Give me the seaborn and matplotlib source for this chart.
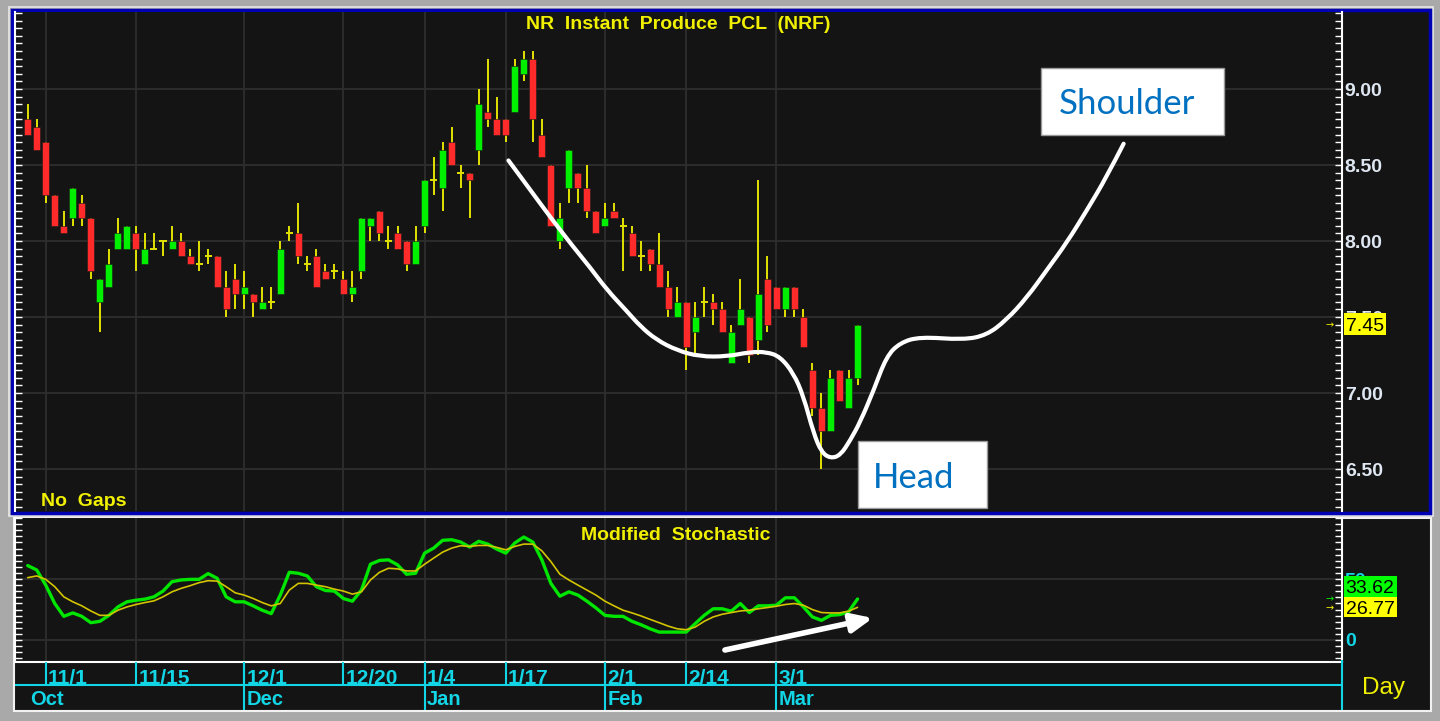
import numpy as np
import pandas as pd
import matplotlib
matplotlib.use("Agg")
import matplotlib.pyplot as plt
from matplotlib.patches import Rectangle, PathPatch
from matplotlib.path import Path
from matplotlib.ticker import FixedLocator, MultipleLocator
import seaborn as sns

# --- daily bars (late Oct -> early Mar) ---
opens = [8.80, 8.75, 8.65, 8.30, 8.10, 8.15, 8.25, 8.15, 7.60, 7.70,
         7.95, 7.95, 8.05, 7.85, 7.95, 8.00, 7.95, 8.00, 7.90, 7.85,
         7.90, 7.90, 7.70, 7.75, 7.65, 7.65, 7.55, 7.60, 7.65, 8.05,
         8.05, 7.85, 7.90, 7.80, 7.80, 7.75, 7.65, 7.80, 8.10, 8.20,
         8.00, 8.05, 8.00, 7.85, 8.10, 8.40, 8.35, 8.65, 8.45, 8.45,
         8.60, 8.85, 8.80, 8.80, 8.85, 9.10, 9.20, 8.70, 8.50, 8.00,
         8.35, 8.45, 8.35, 8.20, 8.10, 8.20, 8.10, 8.05, 7.90, 7.95,
         7.85, 7.70, 7.50, 7.60, 7.40, 7.60, 7.60, 7.55, 7.20, 7.45,
         7.50, 7.35, 7.75, 7.70, 7.55, 7.70, 7.50, 7.15, 6.90, 6.75,
         7.15, 6.90, 7.10]
highs = [8.90, 8.80, 8.65, 8.30, 8.20, 8.35, 8.30, 8.15, 7.75, 7.95,
         8.15, 8.10, 8.10, 8.05, 8.05, 8.00, 8.10, 8.05, 7.95, 8.00,
         7.95, 7.90, 7.80, 7.85, 7.80, 7.65, 7.70, 7.70, 8.00, 8.10,
         8.25, 7.90, 7.95, 7.85, 7.85, 7.80, 7.80, 8.15, 8.15, 8.20,
         8.10, 8.10, 8.00, 8.10, 8.40, 8.55, 8.65, 8.75, 8.50, 8.45,
         9.00, 9.20, 8.95, 8.80, 9.20, 9.25, 9.25, 8.80, 8.50, 8.25,
         8.60, 8.45, 8.50, 8.20, 8.25, 8.25, 8.15, 8.10, 8.00, 7.95,
         8.05, 7.80, 7.70, 7.60, 7.60, 7.70, 7.65, 7.60, 7.45, 7.75,
         7.50, 8.40, 7.90, 7.70, 7.70, 7.70, 7.55, 7.20, 7.00, 7.15,
         7.15, 7.15, 7.45]
lows = [8.70, 8.60, 8.25, 8.10, 8.05, 8.10, 8.10, 7.75, 7.40, 7.70,
        7.95, 7.95, 7.80, 7.85, 7.95, 7.90, 7.95, 7.90, 7.85, 7.80,
        7.85, 7.70, 7.50, 7.55, 7.55, 7.50, 7.55, 7.55, 7.65, 8.00,
        7.85, 7.80, 7.70, 7.75, 7.75, 7.65, 7.60, 7.75, 8.00, 8.00,
        7.95, 7.95, 7.80, 7.85, 8.05, 8.30, 8.20, 8.50, 8.35, 8.15,
        8.50, 8.75, 8.70, 8.65, 8.85, 9.05, 8.65, 8.55, 8.10, 7.95,
        8.25, 8.25, 8.15, 8.05, 8.10, 8.15, 7.80, 7.90, 7.80, 7.80,
        7.70, 7.50, 7.50, 7.15, 7.25, 7.50, 7.45, 7.40, 7.20, 7.45,
        7.20, 7.25, 7.40, 7.55, 7.50, 7.50, 7.30, 6.85, 6.50, 6.75,
        6.95, 6.90, 7.05]
closes = [8.70, 8.60, 8.30, 8.10, 8.05, 8.35, 8.15, 7.80, 7.75, 7.85,
          8.05, 8.10, 7.95, 7.95, 7.95, 8.00, 8.00, 7.90, 7.85, 7.85,
          7.90, 7.70, 7.55, 7.65, 7.70, 7.60, 7.60, 7.60, 7.95, 8.05,
          7.90, 7.85, 7.70, 7.75, 7.80, 7.65, 7.70, 8.15, 8.15, 8.05,
          8.00, 7.95, 7.85, 8.00, 8.40, 8.40, 8.60, 8.50, 8.45, 8.40,
          8.90, 8.80, 8.70, 8.70, 9.15, 9.20, 8.80, 8.55, 8.10, 8.15,
          8.60, 8.35, 8.20, 8.05, 8.15, 8.15, 8.10, 7.90, 7.90, 7.85,
          7.70, 7.55, 7.60, 7.30, 7.50, 7.60, 7.55, 7.40, 7.40, 7.55,
          7.25, 7.65, 7.45, 7.55, 7.70, 7.55, 7.30, 6.90, 6.75, 7.10,
          6.95, 7.10, 7.45]

# Modified Stochastic (%K green, %D yellow)
stoch_k = [61.0, 57.4, 45.0, 29.9, 19.4, 22.2, 19.4, 14.2, 15.3, 20.2,
           27.1, 31.3, 32.6, 33.5, 35.4, 40.1, 47.8, 49.2, 49.7, 49.7,
           54.4, 50.6, 35.4, 31.3, 31.3, 28.0, 24.4, 21.6, 36.8, 55.5,
           54.7, 52.5, 43.7, 40.6, 40.1, 34.0, 31.8, 40.9, 62.1, 65.2,
           65.7, 61.6, 53.9, 54.7, 71.2, 75.3, 81.7, 82.2, 80.3, 76.2,
           80.9, 78.6, 74.5, 71.2, 79.5, 84.4, 80.3, 65.7, 46.4, 35.9,
           39.5, 36.8, 31.8, 26.3, 20.2, 19.4, 19.4, 15.3, 12.5, 9.2,
           6.5, 6.5, 6.5, 6.5, 13.4, 20.2, 25.6, 25.6, 23.6, 29.9,
           22.5, 28.0, 28.0, 28.5, 34.6, 34.6, 27.1, 18.9, 16.1, 20.2,
           20.8, 23.0, 33.62]
stoch_d = [51.1, 52.5, 49.7, 43.7, 35.4, 31.3, 28.0, 23.8, 20.2, 20.2,
           24.4, 27.1, 29.1, 30.7, 32.1, 35.4, 39.5, 42.3, 44.5, 47.0,
           48.6, 48.3, 43.7, 38.7, 36.8, 34.0, 30.7, 28.0, 29.9, 40.9,
           46.4, 46.4, 45.0, 43.7, 41.7, 40.1, 37.6, 39.5, 49.2, 55.5,
           58.8, 58.3, 56.6, 56.6, 62.1, 67.1, 72.0, 75.3, 77.3, 76.7,
           77.5, 77.5, 75.9, 73.9, 76.7, 78.6, 78.6, 73.1, 64.3, 53.9,
           49.2, 45.0, 40.9, 36.8, 31.8, 28.0, 24.4, 22.2, 19.7, 16.9,
           14.2, 11.4, 9.2, 8.4, 10.6, 15.3, 18.9, 21.1, 22.5, 23.8,
           24.4, 25.6, 26.6, 27.7, 29.1, 29.9, 28.5, 24.9, 22.5, 22.2,
           22.2, 23.6, 26.77]

day_ticks = [2, 12, 24, 35, 44, 53, 64, 73, 83]
day_labels = ["11/1", "11/15", "12/1", "12/20", "1/4", "1/17", "2/1", "2/14", "3/1"]
month_ticks = [0, 24, 44, 64, 83]
month_labels = ["Oct", "Dec", "Jan", "Feb", "Mar"]
price_ticks = [6.5, 7.0, 7.5, 8.0, 8.5, 9.0]

# hand-drawn head & shoulders sketch (bar index, price)
sketch_x = [53.3, 55.3, 57.9, 60.5, 62.3, 64.2, 66.4, 67.9, 69.7, 72.0,
            74.5, 77.5, 80.1, 81.9, 83.4, 84.9, 86.0, 87.1, 88.0, 89.0,
            90.1, 91.2, 92.3, 93.8, 95.2, 96.7, 98.9, 103.7, 106.3, 108.5,
            110.8, 113.0, 115.2, 117.4, 119.6, 121.5]
sketch_y = [8.53, 8.37, 8.16, 7.96, 7.83, 7.68, 7.54, 7.44, 7.35, 7.28,
            7.24, 7.24, 7.27, 7.27, 7.24, 7.13, 6.98, 6.74, 6.61, 6.57,
            6.59, 6.69, 6.81, 7.02, 7.24, 7.33, 7.37, 7.35, 7.38, 7.48,
            7.63, 7.81, 7.99, 8.20, 8.42, 8.64]

W, H = 1440, 721
X0, DX = 27.7, 9.02   # pixel x of bar 0 and bar spacing
BG = "#141414"
GRID = "#2e2e2e"
YEL = "#f0f000"
CYAN = "#12d6e6"
WICK = "#e2e200"
UP = "#00f000"
DOWN = "#ff2a2a"


def px_box(l, t, r, b):
    return [l / W, 1 - b / H, (r - l) / W, (b - t) / H]


def fxy(x, y):
    return x / W, 1 - y / H


def add_rect(fig, l, t, r, b, **kw):
    x, y = fxy(l, b)
    fig.patches.append(Rectangle((x, y), (r - l) / W, (b - t) / H,
                                 transform=fig.transFigure, **kw))


def sketch_path(xs, ys):
    # smooth freehand line: quadratic bezier through midpoints of the traced points
    pts = np.column_stack([xs, ys])
    verts = [pts[0]]
    codes = [Path.MOVETO]
    for i in range(1, len(pts) - 1):
        end = pts[i + 1] if i == len(pts) - 2 else (pts[i] + pts[i + 1]) / 2
        verts += [pts[i], end]
        codes += [Path.CURVE3, Path.CURVE3]
    return Path(verts, codes)


def main():
    sns.set_theme(style="dark", rc={"axes.facecolor": BG, "figure.facecolor": "#a9a9a9",
                                    "axes.edgecolor": "white", "grid.color": GRID})
    plt.rcParams["font.family"] = ["Liberation Sans", "DejaVu Sans"]

    fig = plt.figure(figsize=(W / 100, H / 100), dpi=100)

    # window frames
    add_rect(fig, 9, 7, 1433, 516, facecolor="none", edgecolor="#e8e8e8", lw=1.2, zorder=-2)
    add_rect(fig, 12, 10, 1430, 513, facecolor=BG, edgecolor="#0000b4", lw=2.5, zorder=-1)
    add_rect(fig, 14, 518, 1431, 711, facecolor=BG, edgecolor="#f2f2f2", lw=1.5, zorder=-1)

    xlim = ((15 - X0) / DX, (1342 - X0) / DX)
    idx = np.arange(len(closes))
    o, h, l, c = (np.array(v) for v in (opens, highs, lows, closes))

    # ---------- price panel ----------
    ax = fig.add_axes(px_box(15, 12, 1342, 511))
    ax.set_xlim(*xlim)
    ax.set_ylim(9 - (511 - 89) / 152, 9 + (89 - 12) / 152)
    ax.vlines(idx, l, h, colors=WICK, lw=1.4, zorder=2)
    body = np.abs(c - o)
    colors = [UP if cc > oo else DOWN for oo, cc in zip(o, c)]
    ax.bar(idx, body, bottom=np.minimum(o, c), width=0.78, color=colors,
           edgecolor="#1a1a1a", linewidth=0.4, zorder=3)
    doji = body == 0
    ax.hlines(c[doji], idx[doji] - 0.39, idx[doji] + 0.39, colors=WICK, lw=1.4, zorder=3)
    ax.add_patch(PathPatch(sketch_path(sketch_x, sketch_y), fill=False, edgecolor="white",
                           lw=3, capstyle="round", joinstyle="round", zorder=6))

    ax.set_xticks(day_ticks)
    ax.tick_params(axis="x", length=0, labelbottom=False)
    ax.yaxis.set_major_locator(FixedLocator(price_ticks))
    ax.set_yticks(price_ticks, [f"{p:.2f}" for p in price_ticks], fontweight="bold")
    ax.yaxis.set_minor_locator(MultipleLocator(0.05))
    ax.tick_params(axis="y", which="both", left=True, right=True, direction="in",
                   length=5, width=1, color="white", labelleft=False, labelright=True,
                   labelsize=14, labelcolor="#dfe7f2", pad=2)
    ax.grid(True, color=GRID, lw=1.3)
    for side in ("top", "bottom"):
        ax.spines[side].set_visible(False)
    for side in ("left", "right"):
        ax.spines[side].set_color("white")
        ax.spines[side].set_linewidth(1.5)

    # ---------- stochastic panel ----------
    ax2 = fig.add_axes(px_box(15, 518, 1342, 662))
    df = pd.DataFrame({"bar": idx, "k": stoch_k, "d": stoch_d})
    sns.lineplot(data=df, x="bar", y="k", ax=ax2, color="#00e600", lw=2.4, legend=False)
    sns.lineplot(data=df, x="bar", y="d", ax=ax2, color="#d2c400", lw=1.2, legend=False)
    ax2.set_xlim(*xlim)
    ax2.set_ylim((640 - 662) / 61 * 50, (640 - 518) / 61 * 50)
    ax2.set_xlabel("")
    ax2.set_ylabel("")
    ax2.set_xticks(day_ticks)
    ax2.tick_params(axis="x", length=0, labelbottom=False)
    ax2.set_yticks([0, 50], ["0", "50"], fontweight="bold")
    ax2.yaxis.set_minor_locator(MultipleLocator(5))
    ax2.tick_params(axis="y", which="both", left=True, right=True, direction="in",
                    length=5, width=1, color="white", labelleft=False, labelright=True,
                    labelsize=14, labelcolor=CYAN, pad=2)
    ax2.grid(True, color=GRID, lw=1.3)
    ax2.spines["top"].set_visible(False)
    for side in ("left", "right", "bottom"):
        ax2.spines[side].set_color("white")
        ax2.spines[side].set_linewidth(1.5)
    ax2.annotate("", xy=(93.7, 18.0), xytext=(77.3, -8.2), annotation_clip=False,
                 arrowprops=dict(arrowstyle="-|>,head_length=0.9,head_width=0.4",
                                 color="white", lw=4, mutation_scale=14,
                                 shrinkA=0, shrinkB=0))

    # ---------- date axis ----------
    ax3 = fig.add_axes(px_box(15, 662, 1342, 710))
    ax3.set_xlim(*xlim)
    ax3.set_ylim(0, 1)
    ax3.axis("off")
    mid = (710 - 685) / 48
    ax3.axhline(mid, color=CYAN, lw=1.5)
    ax3.vlines(day_ticks, mid, 1, colors=CYAN, lw=1.5)
    ax3.vlines(month_ticks[1:], 0, 1, colors=CYAN, lw=1.5)
    ax3.vlines([xlim[1]], 0, 1.05, colors=CYAN, lw=1.5, clip_on=False)
    for t, lab in zip(day_ticks, day_labels):
        ax3.text(t + 0.25, (710 - 684) / 48, lab, color=CYAN, fontsize=15,
                 fontweight="bold", va="baseline", ha="left")
    for t, lab in zip(month_ticks, month_labels):
        ax3.text(t + 0.25, (710 - 705) / 48, lab, color=CYAN, fontsize=14.5,
                 fontweight="bold", va="baseline", ha="left")

    # ---------- texts ----------
    fig.text(*fxy(678, 29), "NR  Instant  Produce  PCL  (NRF)", color=YEL, fontsize=14,
             fontweight="bold", ha="center", va="baseline")
    fig.text(*fxy(676, 540), "Modified  Stochastic", color=YEL, fontsize=14,
             fontweight="bold", ha="center", va="baseline")
    fig.text(*fxy(41, 506), "No  Gaps", color=YEL, fontsize=14,
             fontweight="bold", ha="left", va="baseline")
    fig.text(*fxy(1362, 694), "Day", color=YEL, fontsize=17.5, ha="left", va="baseline")

    # last-value tags
    add_rect(fig, 1344, 313, 1386, 335, facecolor="#ffff00", edgecolor="none", zorder=5)
    fig.text(*fxy(1365, 331), "7.45", color="black", fontsize=14, ha="center",
             va="baseline", zorder=6)
    add_rect(fig, 1344, 576, 1397, 597, facecolor="#00ff00", edgecolor="none", zorder=5)
    fig.text(*fxy(1370, 593), "33.62", color="black", fontsize=14, ha="center",
             va="baseline", zorder=6)
    add_rect(fig, 1344, 597, 1397, 617, facecolor="#ffff00", edgecolor="none", zorder=5)
    fig.text(*fxy(1370, 614), "26.77", color="black", fontsize=14, ha="center",
             va="baseline", zorder=6)
    for (x, y, col) in [(1326, 325, YEL), (1325, 599, UP), (1325, 608, YEL)]:
        fig.text(*fxy(x, y), "→", color=col, fontsize=7, ha="left", va="center",
                 family="DejaVu Sans", zorder=6)

    # callout boxes
    add_rect(fig, 1041, 68, 1224, 135, facecolor="white", edgecolor="#9a9a9a", lw=1, zorder=5)
    fig.text(*fxy(1127, 114), "Shoulder", color="#0070c0", fontsize=25, family="Lato",
             ha="center", va="baseline", zorder=6)
    add_rect(fig, 858, 441, 987, 508, facecolor="white", edgecolor="#9a9a9a", lw=1, zorder=5)
    fig.text(*fxy(914, 488), "Head", color="#0070c0", fontsize=25, family="Lato",
             ha="center", va="baseline", zorder=6)

    fig.savefig("out.png", dpi=100, facecolor=fig.get_facecolor())
    plt.close(fig)


if __name__ == "__main__":
    main()
